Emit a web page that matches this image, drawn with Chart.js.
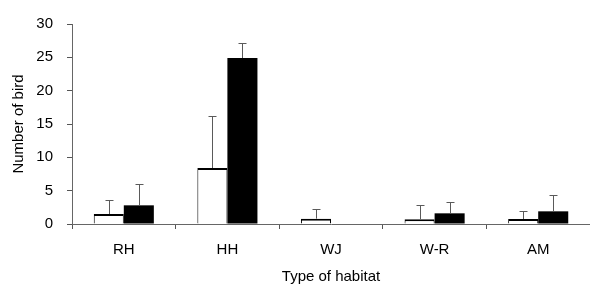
<!DOCTYPE html>
<html>
<head>
<meta charset="utf-8">
<script src="https://cdn.jsdelivr.net/npm/chart.js@4.4.0/dist/chart.umd.min.js"></script>
<style>
  html, body { margin: 0; padding: 0; background: #fff; }
  #wrap { width: 590px; height: 284px; }
</style>
</head>
<body>
<div id="wrap"><canvas id="myChart" width="590" height="284"></canvas></div>
<script>
// habitat categories and the two series (open / filled bars), with upward SD
var habitats = ['RH', 'HH', 'WJ', 'W-R', 'AM'];
var openValues = [1.5, 8.4, 0.8, 0.7, 0.75];
var openErrors = [2.1, 7.8, 1.4, 2.1, 1.25];
var filledValues = [2.8, 24.9, 0, 1.6, 1.9];
var filledErrors = [3.2, 2.3, 0, 1.7, 2.4];
var yTicks = [0, 5, 10, 15, 20, 25, 30];

var errorBars = {
    id: 'errorBars',
    afterDatasetsDraw: function(chart) {
        var ctx = chart.ctx;
        var yScale = chart.scales.y;
        ctx.save();
        ctx.strokeStyle = '#5a5a5a';
        ctx.lineWidth = 1;
        chart.data.datasets.forEach(function(ds, i) {
            var meta = chart.getDatasetMeta(i);
            meta.data.forEach(function(bar, j) {
                var v = ds.data[j], e = ds.errors[j];
                if (!e) return;
                var x = Math.round(bar.x) + 0.5;
                var y0 = yScale.getPixelForValue(v);
                var y1 = Math.round(yScale.getPixelForValue(v + e)) + 0.5;
                ctx.beginPath();
                ctx.moveTo(x, y0);
                ctx.lineTo(x, y1);
                ctx.moveTo(x - 4, y1);
                ctx.lineTo(x + 4, y1);
                ctx.stroke();
            });
        });
        ctx.restore();
    }
};

document.addEventListener('DOMContentLoaded', function() {
    Chart.defaults.font.family = '"Liberation Sans", Arial, sans-serif';
    Chart.defaults.font.size = 15;
    Chart.defaults.color = '#000';
    var myChart = document.getElementById('myChart');
    new Chart(myChart, {
        type: 'bar',
        data: {
            labels: habitats,
            datasets: [
                {
                    data: openValues,
                    errors: openErrors,
                    backgroundColor: '#fff',
                    borderColor: '#000',
                    borderWidth: {top: 2, left: 1, right: 1, bottom: 0},
                    borderSkipped: false,
                    categoryPercentage: 0.58,
                    barPercentage: 1,
                    inflateAmount: 0
                },
                {
                    data: filledValues,
                    errors: filledErrors,
                    backgroundColor: '#000',
                    borderWidth: 0,
                    categoryPercentage: 0.58,
                    barPercentage: 1,
                    inflateAmount: 0
                }
            ]
        },
        options: {
            responsive: false,
            animation: false,
            events: [],
            layout: {padding: {top: 24, right: 0, left: 0, bottom: 0}},
            plugins: {legend: {display: false}, tooltip: {enabled: false}},
            scales: {
                x: {
                    afterFit: function(axis) { axis.height = 60; },
                    grid: {offset: true, drawOnChartArea: false, tickLength: 5, color: '#555'},
                    border: {color: '#666'},
                    ticks: {padding: 12},
                    title: {display: true, text: 'Type of habitat', font: {lineHeight: 1}, padding: {top: 0, bottom: 0}}
                },
                y: {
                    min: 0,
                    max: 30,
                    afterFit: function(axis) { axis.width = 72; },
                    afterBuildTicks: function(axis) {
                        axis.ticks = yTicks.map(function(v) { return {value: v}; });
                    },
                    grid: {drawOnChartArea: false, tickLength: 5, color: '#555'},
                    border: {color: '#666'},
                    ticks: {padding: 14},
                    title: {display: true, text: 'Number of bird', padding: {top: 10, bottom: 0}}
                }
            }
        },
        plugins: [errorBars]
    });
});
</script>
</body>
</html>
